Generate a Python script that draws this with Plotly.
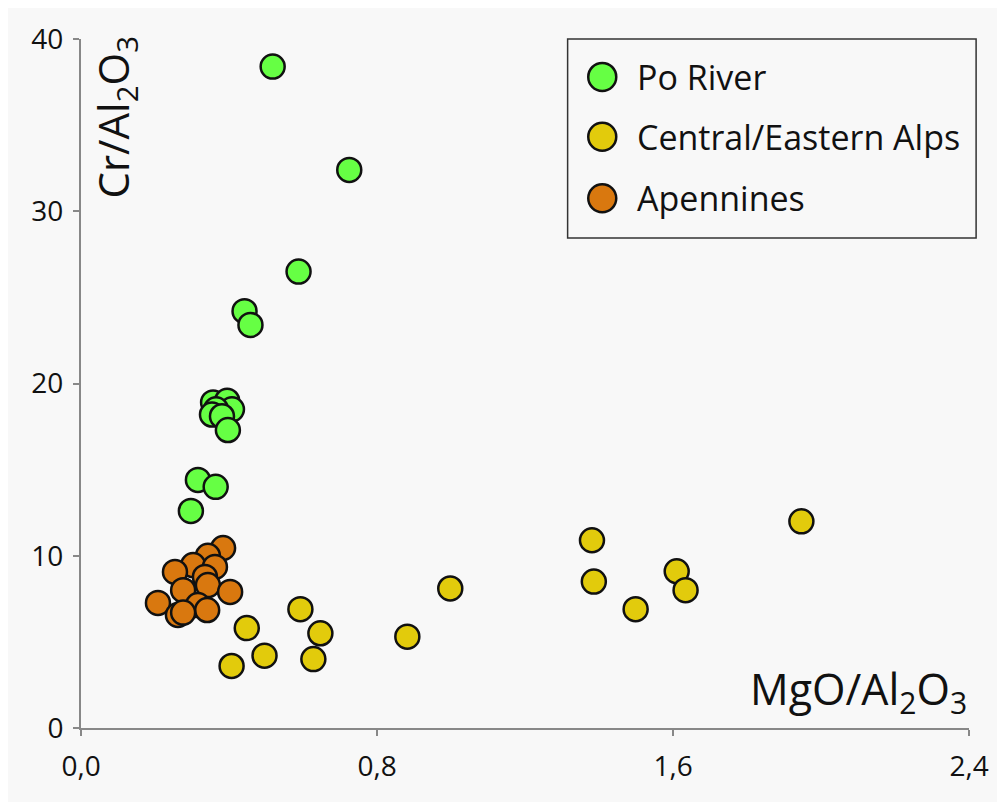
import plotly.graph_objects as go

# Po River
po_x = [0.518, 0.725, 0.588, 0.442, 0.458, 0.357, 0.395, 0.408, 0.365, 0.354, 0.381, 0.397, 0.316, 0.364, 0.297]
po_y = [38.4, 32.4, 26.5, 24.2, 23.4, 18.9, 19.0, 18.5, 18.5, 18.2, 18.1, 17.3, 14.4, 14.0, 12.6]

# Central/Eastern Alps
alps_x = [1.947, 1.381, 1.386, 1.610, 1.634, 1.499, 0.998, 0.882, 0.593, 0.647, 0.628, 0.496, 0.448, 0.407]
alps_y = [12.0, 10.9, 8.5, 9.1, 8.0, 6.9, 8.1, 5.3, 6.9, 5.5, 4.0, 4.2, 5.8, 3.6]

# Apennines
ap_x = [0.384, 0.343, 0.303, 0.362, 0.254, 0.335, 0.276, 0.343, 0.403, 0.208, 0.316, 0.341, 0.262, 0.276]
ap_y = [10.45, 10.0, 9.46, 9.35, 9.06, 8.77, 8.0, 8.3, 7.9, 7.26, 7.14, 6.85, 6.56, 6.7]

x_ticks = [0.0, 0.8, 1.6, 2.4]
x_ticklabels = ["0,0", "0,8", "1,6", "2,4"]
y_ticks = [0, 10, 20, 30, 40]

names = ["Po River", "Central/Eastern Alps", "Apennines"]
colors = ["#66FF44", "#E2CB0C", "#D9780F"]

FONT = "Open Sans"
TXT = "#111111"
BG = "#F8F8F8"

fig = go.Figure()
for name, xs, ys, col in zip(names, [po_x, alps_x, ap_x], [po_y, alps_y, ap_y], colors):
    fig.add_trace(go.Scatter(
        x=xs, y=ys, mode="markers", name=name, showlegend=False,
        marker=dict(size=24, color=col, line=dict(color=TXT, width=2.5)),
    ))

fig.update_layout(
    width=1005, height=802,
    margin=dict(l=73, r=44, t=31, b=82),
    paper_bgcolor=BG, plot_bgcolor=BG,
    font=dict(family=FONT, color=TXT),
    showlegend=False,
    xaxis=dict(
        range=[0, 2.4], tickvals=x_ticks, ticktext=x_ticklabels,
        showgrid=False, zeroline=False, showline=True, linecolor="#888888", linewidth=2,
        ticks="outside", ticklen=6, tickcolor="#888888", tickwidth=1.5,
        tickfont=dict(size=28, family=FONT, color=TXT),
        ticklabelstandoff=6,
    ),
    yaxis=dict(
        range=[0, 40], tickvals=y_ticks,
        showgrid=False, zeroline=False, showline=True, linecolor="#888888", linewidth=2,
        ticks="outside", ticklen=6, tickcolor="#888888", tickwidth=1.5,
        tickfont=dict(size=28, family=FONT, color=TXT),
        ticklabelstandoff=4,
    ),
)

# Legend box drawn as a framed panel in paper coordinates
fig.add_shape(type="rect", xref="paper", yref="paper",
              x0=0.548, x1=1.008, y0=0.711, y1=1.0,
              line=dict(color="#333333", width=1.5), fillcolor=BG, layer="above")
legend_y = [0.945, 0.858, 0.769]
for name, col, ly in zip(names, colors, legend_y):
    fig.add_shape(type="circle", xref="paper", yref="paper",
                  xsizemode="pixel", ysizemode="pixel",
                  xanchor=0.587, yanchor=ly, x0=-14, x1=14, y0=-14, y1=14,
                  line=dict(color=TXT, width=2.5), fillcolor=col, layer="above")
    fig.add_annotation(text=name, xref="paper", yref="paper",
                       x=0.624, y=ly, xanchor="left", yanchor="middle",
                       showarrow=False, font=dict(size=34, family=FONT, color=TXT))

fig.add_annotation(
    text="Cr/Al<sub>2</sub>O<sub>3</sub>", xref="paper", yref="paper",
    x=0.039, y=1.006, xanchor="center", yanchor="top", textangle=-90,
    showarrow=False, font=dict(size=42, family=FONT, color=TXT),
)
fig.add_annotation(
    text="MgO/Al<sub>2</sub>O<sub>3</sub>", xref="paper", yref="paper",
    x=1.0, y=0.005, xanchor="right", yanchor="bottom",
    showarrow=False, font=dict(size=43, family=FONT, color=TXT),
)

fig.write_html("out.html")
